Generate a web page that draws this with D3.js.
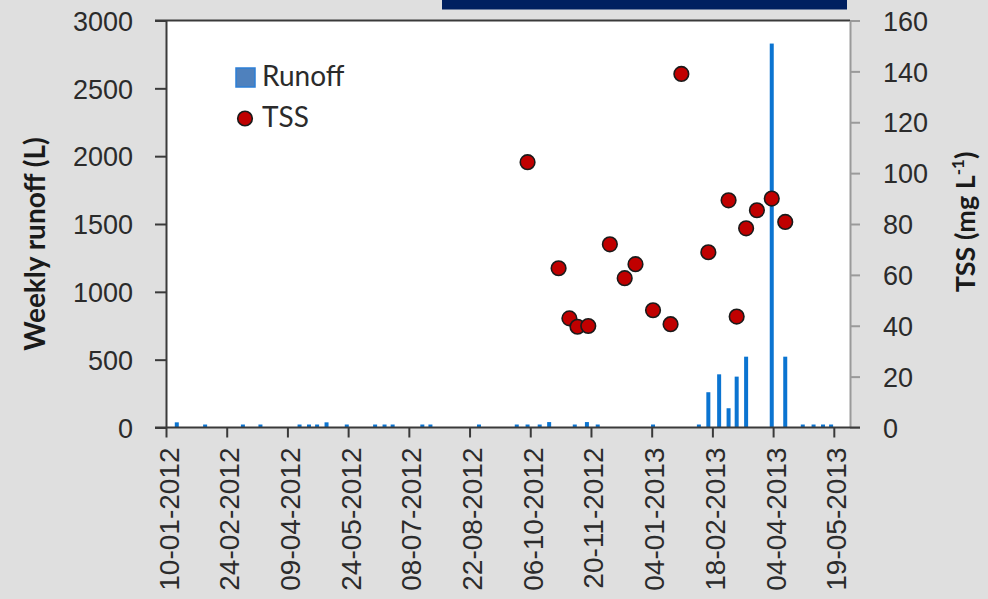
<!DOCTYPE html>
<html>
<head>
<meta charset="utf-8">
<script src="https://cdn.jsdelivr.net/npm/d3@7"></script>
<style>
  body { margin: 0; background: #dfdfdf; }
  svg { display: block; font-family: Lato, "Open Sans", sans-serif; }
</style>
</head>
<body>
<div id="chart"></div>
<script>
// weekly runoff (L)
const runoffDates = [
  "18-01-2012", "08-02-2012", "07-03-2012", "20-03-2012", "18-04-2012", "25-04-2012",
  "01-05-2012", "08-05-2012", "23-05-2012", "13-06-2012", "20-06-2012", "26-06-2012",
  "18-07-2012", "24-07-2012", "29-08-2012", "26-09-2012", "04-10-2012", "13-10-2012",
  "20-10-2012", "08-11-2012", "17-11-2012", "25-11-2012", "05-01-2013", "08-02-2013",
  "15-02-2013", "23-02-2013", "02-03-2013", "08-03-2013", "15-03-2013", "03-04-2013",
  "13-04-2013", "26-04-2013", "04-05-2013", "11-05-2013", "17-05-2013"
];
const runoffValues = [
  38, 22, 22, 22, 22, 22,
  22, 38, 22, 22, 22, 22,
  22, 22, 22, 22, 22, 22,
  40, 22, 40, 22, 22, 22,
  260, 392, 142, 375, 522, 2830,
  522, 22, 22, 22, 22
];

// TSS (mg/L)
const tssDates = [
  "04-10-2012", "27-10-2012", "04-11-2012", "10-11-2012", "18-11-2012", "04-12-2012",
  "15-12-2012", "23-12-2012", "05-01-2013", "18-01-2013", "26-01-2013", "15-02-2013",
  "02-03-2013", "08-03-2013", "15-03-2013", "23-03-2013", "03-04-2013", "13-04-2013"
];
const tssValues = [
  104.3, 62.6, 42.9, 39.6, 39.9, 72.0,
  58.7, 64.2, 46.1, 40.6, 139.0, 68.9,
  89.3, 43.6, 78.3, 85.4, 90.0, 80.8
];

const dateTicks = [
  "10-01-2012", "24-02-2012", "09-04-2012", "24-05-2012", "08-07-2012", "22-08-2012",
  "06-10-2012", "20-11-2012", "04-01-2013", "18-02-2013", "04-04-2013", "19-05-2013"
];
const xDomain = ["10-01-2012", "31-05-2013"];
const leftTicks = [0, 500, 1000, 1500, 2000, 2500, 3000];
const rightTicks = [0, 20, 40, 60, 80, 100, 120, 140, 160];

const width = 988, height = 599;
const margin = { top: 20.5, right: 138, bottom: 171.5, left: 166 };

const parse = d3.timeParse("%d-%m-%Y");
const fmt = d3.timeFormat("%d-%m-%Y");

const runoff = runoffDates.map((d, i) => ({ date: parse(d), value: runoffValues[i] }));
const tss = tssDates.map((d, i) => ({ date: parse(d), value: tssValues[i] }));

const svg = d3.select("#chart").append("svg")
  .attr("width", width)
  .attr("height", height);

// navy strip at top
svg.append("rect")
  .attr("x", 442).attr("y", 0)
  .attr("width", 405).attr("height", 9.5)
  .attr("fill", "#002060");

const x = d3.scaleTime()
  .domain(xDomain.map(parse))
  .range([margin.left, width - margin.right]);

const yL = d3.scaleLinear()
  .domain([0, 3000])
  .range([height - margin.bottom, margin.top]);

const yR = d3.scaleLinear()
  .domain([0, 160])
  .range([height - margin.bottom, margin.top]);

// plot area
svg.append("rect")
  .attr("x", margin.left).attr("y", margin.top)
  .attr("width", width - margin.left - margin.right)
  .attr("height", height - margin.top - margin.bottom)
  .attr("fill", "#fff");

// bars
svg.append("g")
  .selectAll("rect")
  .data(runoff)
  .join("rect")
  .attr("x", d => x(d.date) - 2)
  .attr("y", d => yL(d.value))
  .attr("width", 4)
  .attr("height", d => yL(0) - yL(d.value))
  .attr("fill", "#0b74d1");

// top border
svg.append("line")
  .attr("x1", margin.left - 11).attr("x2", width - margin.right)
  .attr("y1", margin.top).attr("y2", margin.top)
  .attr("stroke", "#3a3a3a").attr("stroke-width", 2);

// left axis
const gL = svg.append("g")
  .attr("transform", `translate(${margin.left},0)`)
  .call(d3.axisLeft(yL).tickValues(leftTicks).tickFormat(d3.format("d"))
    .tickSize(11).tickPadding(22).tickSizeOuter(0));
gL.select(".domain").attr("stroke", "#3a3a3a").attr("stroke-width", 2);
gL.selectAll(".tick line").attr("stroke", "#3a3a3a").attr("stroke-width", 2);
gL.selectAll(".tick text")
  .attr("font-size", 27).attr("fill", "#2b2b2b")
  .attr("dy", "0.36em");

// right axis
const gR = svg.append("g")
  .attr("transform", `translate(${width - margin.right},0)`)
  .call(d3.axisRight(yR).tickValues(rightTicks).tickSize(10).tickPadding(23).tickSizeOuter(0));
gR.select(".domain").attr("stroke", "#9a9a9a").attr("stroke-width", 2);
gR.selectAll(".tick line").attr("stroke", "#9a9a9a").attr("stroke-width", 2);
gR.selectAll(".tick text")
  .attr("font-size", 27).attr("fill", "#2b2b2b")
  .attr("dy", "0.36em");

// bottom axis
const gB = svg.append("g")
  .attr("transform", `translate(0,${height - margin.bottom})`)
  .call(d3.axisBottom(x).tickValues(dateTicks.map(parse)).tickFormat(fmt).tickSize(10).tickSizeOuter(0));
gB.select(".domain").remove();
gB.append("line")
  .attr("x1", margin.left - 11).attr("x2", width - margin.right + 10)
  .attr("stroke", "#3a3a3a").attr("stroke-width", 2);
gB.selectAll(".tick line").attr("stroke", "#3a3a3a").attr("stroke-width", 2);
gB.selectAll(".tick text")
  .attr("font-size", 28).attr("fill", "#2b2b2b")
  .attr("transform", "rotate(-90)")
  .attr("text-anchor", "end")
  .attr("x", -20).attr("y", 12).attr("dy", null);

// TSS points
svg.append("g")
  .selectAll("circle")
  .data(tss)
  .join("circle")
  .attr("cx", d => x(d.date))
  .attr("cy", d => yR(d.value))
  .attr("r", 7.3)
  .attr("fill", "#c00000")
  .attr("stroke", "#1a1a1a")
  .attr("stroke-width", 1.6);

// legend
const legend = svg.append("g").attr("font-size", 28).attr("fill", "#2b2b2b");
legend.append("rect")
  .attr("x", 236).attr("y", 68).attr("width", 19).attr("height", 19)
  .attr("fill", "#4f81bd").attr("stroke", "#2c7fd6").attr("stroke-width", 1.5);
legend.append("text").attr("x", 262).attr("y", 86).text("Runoff");
legend.append("circle")
  .attr("cx", 245).attr("cy", 118.5).attr("r", 7.3)
  .attr("fill", "#c00000").attr("stroke", "#1a1a1a").attr("stroke-width", 1.6);
legend.append("text").attr("x", 262).attr("y", 127).text("TSS");

// axis titles
svg.append("text")
  .attr("transform", `translate(45,${(yL(0) + yL(3000)) / 2 + 20}) rotate(-90)`)
  .attr("text-anchor", "middle")
  .attr("font-size", 28).attr("font-weight", "bold").attr("fill", "#1a1a1a")
  .text("Weekly runoff  (L)");

const tTitle = svg.append("text")
  .attr("transform", `translate(975,${222}) rotate(-90)`)
  .attr("text-anchor", "middle")
  .attr("font-size", 27).attr("font-weight", "bold").attr("fill", "#1a1a1a");
tTitle.append("tspan").text("TSS (mg L");
tTitle.append("tspan").attr("font-size", 17).attr("dy", -11).text("-1");
tTitle.append("tspan").attr("dy", 11).text(")");
</script>
</body>
</html>
